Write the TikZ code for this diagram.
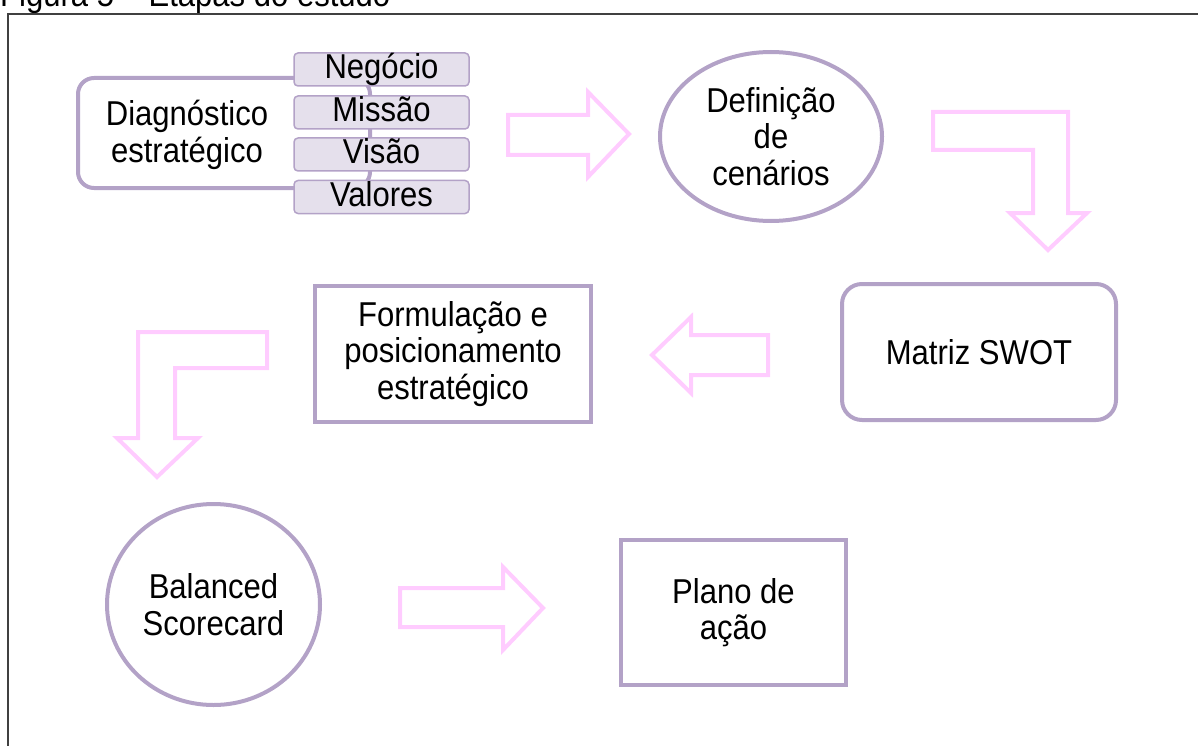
\documentclass[tikz,border=0pt]{standalone}
\usepackage{fontspec}
\setmainfont{Liberation Sans}[FakeStretch=0.9]
\usetikzlibrary{shapes.geometric}
\definecolor{lilas}{HTML}{B3A2C7}
\definecolor{lilasclaro}{HTML}{E5E0EC}
\definecolor{rosa}{HTML}{FFCCFF}
\definecolor{moldura}{HTML}{404040}

\begin{document}
\begin{tikzpicture}[x=1pt, y=-1pt,
    texto/.style={align=center, font=\fontsize{34.5}{36.5}\selectfont},
    etapa/.style={texto, draw=lilas, line width=4pt},
    item/.style={texto, draw=lilas, line width=1.5pt, fill=lilasclaro, rounded corners=4pt,
      minimum width=175pt, minimum height=33pt, inner sep=0pt, text height=25pt, text depth=7pt},
    seta/.style={draw=rosa, line width=4pt}]
    \useasboundingbox (0,0) rectangle (1198,746);
    \node[texto, anchor=base west, inner sep=0pt] (titulo) at (0,7) {Figura 5 – Etapas do estudo};
    \draw[moldura, line width=2pt] (8,760) -- (8,14) -- (1210,14);

    \node[etapa, rounded corners=16pt, minimum width=292pt, minimum height=110pt] (diag) at (224,133) {};
    \node[texto] (diagtexto) at (187,135) {Diagnóstico\\estratégico};
    \node[item] (negocio) at (381.5,69.5) {Negócio};
    \node[item] (missao) at (381.5,112.5) {Missão};
    \node[item] (visao) at (381.5,154.5) {Visão};
    \node[item] (valores) at (381.5,197) {Valores};

    \node[etapa, ellipse, inner sep=0pt, minimum width=222pt, minimum height=169pt] (cenarios) at (771,136.5) {Definição\\de\\cenários};
    \node[etapa, rounded corners=20pt, minimum width=274pt, minimum height=136pt] (swot) at (979,352) {Matriz SWOT};
    \node[etapa, minimum width=276pt, minimum height=136pt] (formulacao) at (453,354) {Formulação e\\posicionamento\\estratégico};
    \node[etapa, ellipse, inner sep=0pt, minimum width=213pt, minimum height=201pt] (bsc) at (213.5,604.5) {Balanced\\Scorecard};
    \node[etapa, minimum width=225pt, minimum height=145pt] (plano) at (733.5,612.5) {Plano de\\ação};

    \draw[seta] (508,115) -- (588,115) -- (588,92) -- (629,134) -- (588,177) -- (588,155) -- (508,155) -- cycle;
    \draw[seta] (933,112) -- (1068,112) -- (1068,213) -- (1087,213) -- (1048,250) -- (1010,213) -- (1033,213) -- (1033,150) -- (933,150) -- cycle;
    \draw[seta] (768,335) -- (691,335) -- (691,317) -- (652,355) -- (691,393) -- (691,375) -- (768,375) -- cycle;
    \draw[seta] (267,332) -- (138,332) -- (138,438) -- (117,438) -- (157,477) -- (198,438) -- (175,438) -- (175,368) -- (267,368) -- cycle;
    \draw[seta] (400,588) -- (503,588) -- (503,567) -- (543,608) -- (503,650) -- (503,627) -- (400,627) -- cycle;
  \end{tikzpicture}
\end{document}
